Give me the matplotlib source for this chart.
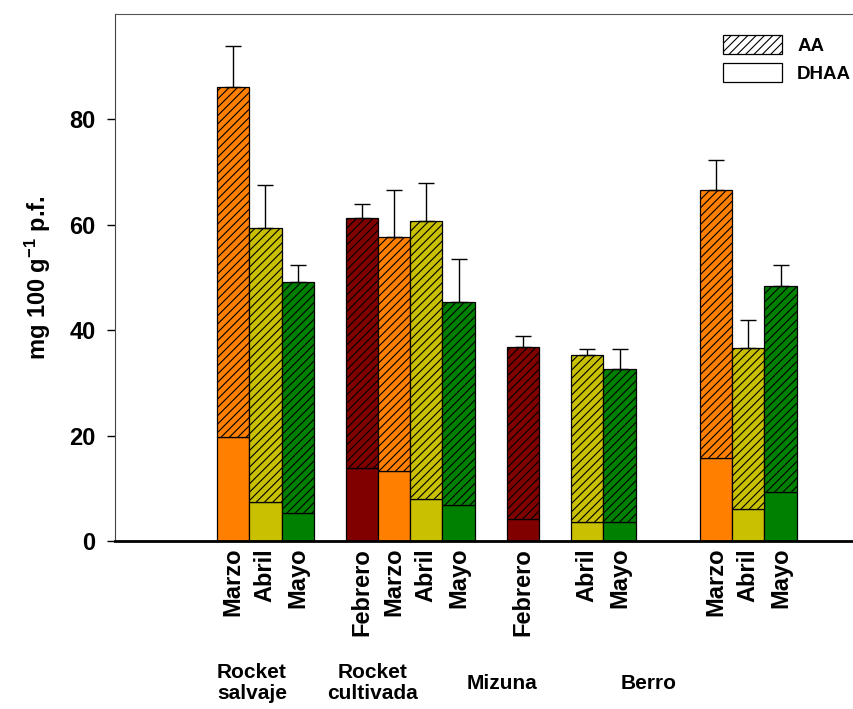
import matplotlib
matplotlib.use("Agg")
import matplotlib.pyplot as plt
from matplotlib.patches import Patch

plt.rcParams['font.family'] = ['Liberation Sans', 'DejaVu Sans']
plt.rcParams['font.weight'] = 'bold'
plt.rcParams['mathtext.fontset'] = 'custom'
plt.rcParams['mathtext.bf'] = 'Liberation Sans:bold'
plt.rcParams['mathtext.rm'] = 'Liberation Sans:bold'
plt.rcParams['mathtext.default'] = 'bf'
plt.rcParams['hatch.linewidth'] = 0.8
plt.rcParams['hatch.color'] = 'black'

# datos
grupos = ['Rocket\nsalvaje', 'Rocket\ncultivada', 'Mizuna', 'Berro']
meses = ['Febrero', 'Marzo', 'Abril', 'Mayo']
colores = {'Febrero': '#800000', 'Marzo': '#FF8000', 'Abril': '#C8C000', 'Mayo': '#008000'}

bar_grupo = [0, 0, 0, 1, 1, 1, 1, 2, 2, 2, 3, 3, 3]
bar_mes = ['Marzo', 'Abril', 'Mayo', 'Febrero', 'Marzo', 'Abril', 'Mayo',
           'Febrero', 'Abril', 'Mayo', 'Marzo', 'Abril', 'Mayo']
dhaa = [19.8, 7.4, 5.3, 13.8, 13.3, 8.0, 6.9, 4.1, 3.6, 3.6, 15.7, 6.0, 9.3]
aa = [66.4, 51.9, 43.9, 47.4, 44.4, 52.7, 38.4, 32.8, 31.7, 29.0, 50.9, 30.7, 39.0]
err = [7.7, 8.3, 3.1, 2.8, 8.9, 7.2, 8.2, 2.0, 1.1, 3.9, 5.7, 5.2, 4.0]

x = [5 * g + meses.index(m) for g, m in zip(bar_grupo, bar_mes)]
cols = [colores[m] for m in bar_mes]

fig = plt.figure(figsize=(8.54, 7.09), dpi=100)
ax = fig.add_axes([0.1347, 0.2370, 0.8653, 0.7433])

ax.bar(x, dhaa, width=1.0, color=cols, edgecolor='black', linewidth=0.9, zorder=2)
ax.bar(x, aa, width=1.0, bottom=dhaa, color=cols, edgecolor='black', linewidth=0.9,
       hatch='////', zorder=2,
       yerr=[[0] * len(err), err],
       error_kw=dict(ecolor='black', elinewidth=1.0, capsize=5.5, capthick=1.0))

ax.set_xlim(-2.67, 20.28)
ax.set_ylim(0, 100)
ax.set_yticks([0, 20, 40, 60, 80])
ax.tick_params(axis='y', labelsize=17, length=6, width=1, direction='out', pad=8)
ax.set_xticks(x, bar_mes, rotation=90, fontsize=17)
ax.tick_params(axis='x', length=0, pad=5)
for lab in ax.get_xticklabels() + ax.get_yticklabels():
    lab.set_fontweight('bold')

ax.spines['right'].set_visible(False)
ax.spines['bottom'].set_linewidth(2)
ax.spines['left'].set_color('#444444')
ax.spines['top'].set_color('#555555')

ax.set_ylabel(r'mg 100 g$^{\mathbf{-1}}$ p.f.', fontsize=17, fontweight='bold', labelpad=12)

# nombres de los grupos bajo los meses
grupo_x = [1.58, 5.34, 9.34, 13.9]
for gx, nombre in zip(grupo_x, grupos):
    ax.text(gx, -0.27, nombre, transform=ax.get_xaxis_transform(),
            ha='center', va='center', fontsize=15, fontweight='bold', linespacing=1.15)

handles = [Patch(facecolor='white', edgecolor='black', hatch='////', linewidth=0.9),
           Patch(facecolor='white', edgecolor='black', linewidth=0.9)]
leg = fig.legend(handles, ['AA', 'DHAA'], loc='upper left', bbox_to_anchor=(0.8466, 0.950),
                 frameon=False, handlelength=3.15, handleheight=1.12,
                 handletextpad=0.8, borderpad=0, borderaxespad=0, labelspacing=0.45,
                 prop=dict(family='Liberation Sans', weight='bold', size=13.5))

fig.savefig('out.png', dpi=100)
